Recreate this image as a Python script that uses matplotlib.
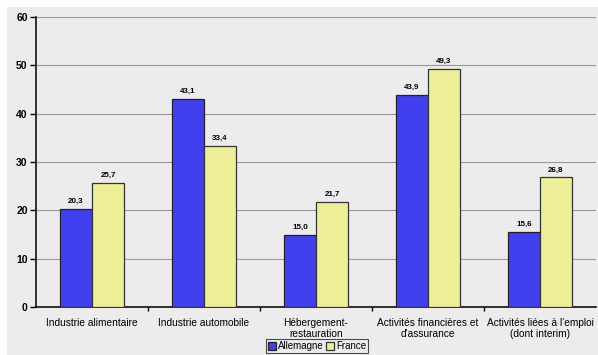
import numpy as np
import matplotlib.pyplot as plt
from matplotlib.patches import Rectangle
from matplotlib.ticker import FixedLocator

categories = ['Industrie alimentaire', 'Industrie automobile', 'Hébergement-\nrestauration',
              "Activités financières et\nd'assurance", "Activités liées à l'emploi\n(dont interim)"]
allemagne = [20.3, 43.1, 15.0, 43.9, 15.6]
france = [25.7, 33.4, 21.7, 49.3, 26.8]
series_names = ['Allemagne', 'France']

plt.rcParams['font.family'] = ['Liberation Sans', 'DejaVu Sans']

fig = plt.figure(figsize=(5.98, 3.55), dpi=100, facecolor='white')
# grey chart area, white strip on top and left
fig.patches.append(Rectangle((7 / 598, 0), 1, 1 - 7 / 355, transform=fig.transFigure,
                             facecolor='#ececec', edgecolor='none', zorder=-10))
ax = fig.add_axes([36 / 598, 48 / 355, 560 / 598, 290 / 355])
ax.set_facecolor('#ececec')

x = np.arange(len(categories))
w = 0.286
b1 = ax.bar(x - w / 2, allemagne, w, color='#4040ee', edgecolor='#222222', linewidth=0.9,
            label=series_names[0], zorder=3)
b2 = ax.bar(x + w / 2, france, w, color='#eeee99', edgecolor='#333333', linewidth=0.9,
            label=series_names[1], zorder=3)
for bars, vals in ((b1, allemagne), (b2, france)):
    for r, v in zip(bars, vals):
        ax.text(r.get_x() + r.get_width() / 2, v + 0.8, f'{v:.1f}'.replace('.', ','),
                ha='center', va='bottom', fontsize=5.8, fontweight='bold')

ax.set_xlim(-0.5, len(categories) - 0.5)
ax.set_ylim(0, 60)
ax.set_yticks(range(0, 61, 10))
ax.set_yticklabels([str(v) for v in range(0, 61, 10)], fontsize=7.5, fontweight='bold')
ax.set_xticks(x)
ax.set_xticklabels(categories, fontsize=7.3, linespacing=1.05)
ax.tick_params(axis='x', length=0, pad=8)
ax.xaxis.set_minor_locator(FixedLocator(x[:-1] + 0.5))
ax.tick_params(axis='x', which='minor', length=3, direction='out', width=1)
ax.tick_params(axis='y', length=4, width=1, pad=2)
ax.yaxis.grid(True, color='#9a9a9a', linewidth=0.8, zorder=0)
ax.set_axisbelow(True)
for s in ('top', 'right'):
    ax.spines[s].set_visible(False)
for s in ('left', 'bottom'):
    ax.spines[s].set_linewidth(1.2)
    ax.spines[s].set_color('#111111')

leg = fig.legend(loc='lower center', bbox_to_anchor=(317 / 598, 0.005), ncol=2, fontsize=7,
                 frameon=True, fancybox=False, handlelength=0.8, handleheight=0.8,
                 handletextpad=0.2, columnspacing=0.3, borderpad=0.2, borderaxespad=0)
leg.get_frame().set_edgecolor('#222222')
leg.get_frame().set_facecolor('#ececec')
leg.get_frame().set_linewidth(0.8)

fig.savefig('out.png', dpi=100, facecolor='white')
